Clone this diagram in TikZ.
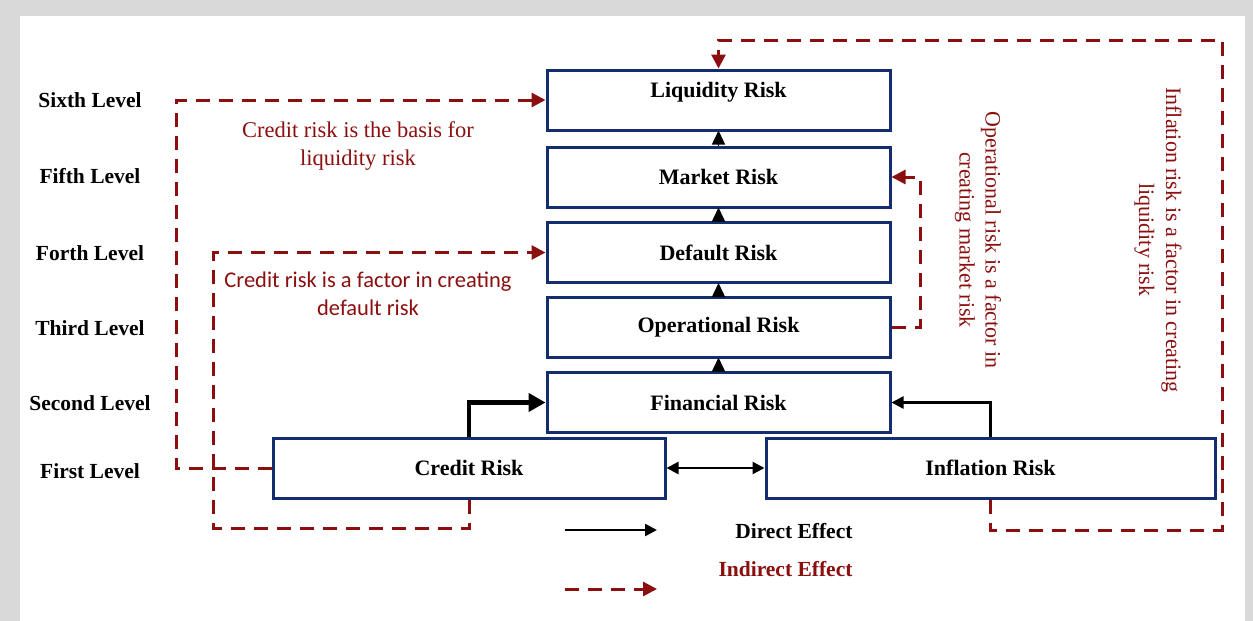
\documentclass[tikz,border=0pt]{standalone}
\usepackage{fontspec}
\setmainfont{Liberation Serif}
\newfontfamily\calib{Carlito}
\usetikzlibrary{arrows.meta}
\definecolor{bgray}{RGB}{217,217,217}
\definecolor{boxblue}{RGB}{20,45,110}
\definecolor{dred}{RGB}{140,15,15}
\tikzset{
  x=1pt, y=-1pt,
  riskbox/.style={draw=boxblue, line width=3pt, fill=white, inner sep=0pt, minimum height=60pt,
    font=\bfseries\fontsize{22}{26}\selectfont},
  lvl/.style={font=\bfseries\fontsize{21.5}{25}\selectfont},
  direct/.style={draw=black, line width=2.5pt, -{Triangle[length=12pt,width=12pt]}},
  stackarrow/.style={draw=black, line width=1.5pt, -{Triangle[length=14pt,width=13pt]}, shorten >=-1pt},
  indirect/.style={draw=dred, line width=3pt, dash pattern=on 14pt off 9pt, line join=miter,
    -{Triangle[length=14pt,width=14pt]}},
  redtext/.style={text=dred, align=center},
}
\begin{document}
\begin{tikzpicture}
\useasboundingbox (0,0) rectangle (1253,621);
\fill[bgray] (0,0) rectangle (1253,621);
\fill[white] (20,16) rectangle (1245,621);

% boxes
\node[riskbox, minimum width=343pt] (liq) at (718.5,100) {\raisebox{3pt}[0pt][0pt]{Liquidity Risk}};
\node[riskbox, minimum width=343pt] (mkt) at (718.5,177) {Market Risk};
\node[riskbox, minimum width=343pt] (def) at (718.5,252.5) {Default Risk};
\node[riskbox, minimum width=343pt] (ope) at (718.5,327) {Operational Risk};
\node[riskbox, minimum width=343pt] (fin) at (718.5,402.5) {Financial Risk};
\node[riskbox, minimum width=392pt] (cre) at (469,468) {Credit Risk};
\node[riskbox, minimum width=449pt] (inf) at (990.5,468) {Inflation Risk};

% level labels
\node[lvl] (l6) at (90,100) {Sixth Level};
\node[lvl] (l5) at (90,176) {Fifth Level};
\node[lvl] (l4) at (90,253) {Forth Level};
\node[lvl] (l3) at (90,328) {Third Level};
\node[lvl] (l2) at (90,403) {Second Level};
\node[lvl] (l1) at (90,471) {First Level};

% direct arrows in the stack
\draw[stackarrow] (fin.north) -- (ope.south);
\draw[stackarrow] (ope.north) -- (def.south);
\draw[stackarrow] (def.north) -- (mkt.south);
\draw[stackarrow] (mkt.north) -- (liq.south);
\draw[direct, line width=4.8pt, -{Triangle[length=17pt,width=18pt]}] (cre.north) |- (fin.west);
\draw[direct] (inf.north) |- (fin.east);
\draw[direct, {Triangle[length=12pt,width=12pt]}-{Triangle[length=12pt,width=12pt]}] (cre.east) -- (inf.west);

% indirect arrows
\coordinate (c1) at (176,100);
\draw[indirect] (cre.west) -| (c1) -- (liq.west);
\coordinate (c2) at (213,528);
\draw[indirect] (cre.south) |- (c2) |- (def.west);
\coordinate (c3) at (920,177);
\draw[indirect] (ope.east) -| (c3) -- (mkt.east);
\coordinate (c4) at (1222,530);
\coordinate (c5) at (718.5,40);
\draw[indirect] (inf.south) |- (c4) |- (c5) -- (liq.north);

% red labels
\node[redtext, font=\fontsize{22.5}{28}\selectfont] (t1) at (358,146) {Credit risk is the basis for\\liquidity risk};
\node[redtext, font=\calib\fontsize{22.5}{28}\selectfont] (t2) at (368,294) {Credit risk is a factor in creating\\default risk};
\node[redtext, font=\fontsize{22}{26}\selectfont, rotate=-90] (t3) at (978,240) {Operational risk is a factor in\\creating market risk};
\node[redtext, font=\fontsize{22}{27}\selectfont, rotate=-90] (t4) at (1158,240) {Inflation risk is a factor in creating\\liquidity risk};

% legend
\coordinate (a1) at (565,530);
\coordinate (a2) at (657,530);
\draw[direct] (a1) -- (a2);
\coordinate (b1) at (565,589);
\coordinate (b2) at (657,589);
\draw[indirect] (b1) -- (b2);
\node[lvl, anchor=east] (d1) at (856,531) {Direct Effect};
\node[lvl, anchor=east, text=dred] (d2) at (856,569) {Indirect Effect};
\end{tikzpicture}
\end{document}
